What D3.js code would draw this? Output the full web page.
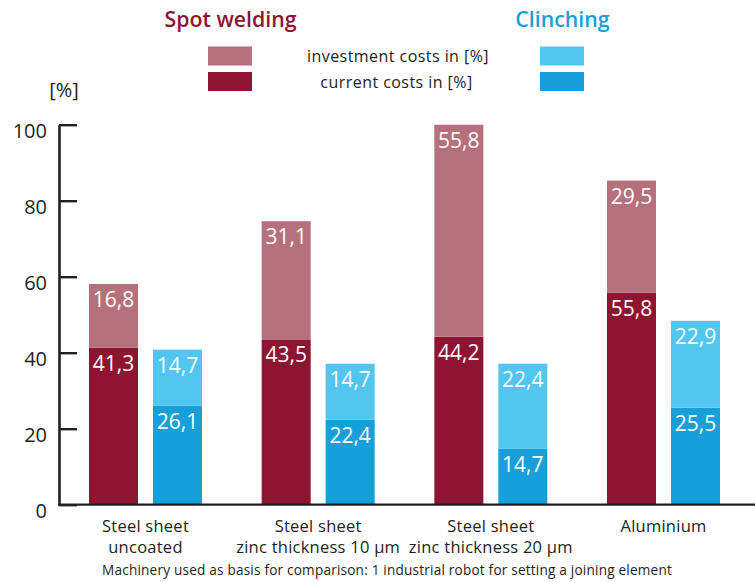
<!DOCTYPE html>
<html><head><meta charset="utf-8">
<script src="https://cdn.jsdelivr.net/npm/d3@7/dist/d3.min.js"></script>
<style>
body{margin:0;background:#fff;}
svg{display:block;font-family:"Open Sans",sans-serif;}
</style></head>
<body><svg id="c" width="755" height="582"></svg>
<script>
const categories = [["Steel sheet","uncoated"],["Steel sheet","zinc thickness 10 µm"],["Steel sheet","zinc thickness 20 µm"],["Aluminium"]];
const spotCurrent = [41.3, 43.5, 44.2, 55.8];
const spotInvest = [16.8, 31.1, 55.8, 29.5];
const clinchCurrent = [26.1, 22.4, 14.7, 25.5];
const clinchInvest = [14.7, 14.7, 22.4, 22.9];
const yTicks = [0, 20, 40, 60, 80, 100];
const methods = ["Spot welding", "Clinching"];
const legendLabels = ["investment costs in [%]", "current costs in [%]"];
const footnote = "Machinery used as basis for comparison: 1 industrial robot for setting a joining element";

const colors = {
  "Spot welding": {invest:"#b6707c", current:"#8d1532", title:"#8d1532"},
  "Clinching": {invest:"#52c6f0", current:"#179fd9", title:"#179fd9"}
};
const fmt = v => String(v).replace(".", ",");

const svg = d3.select("#c");
const idx = d3.range(categories.length);
const x = d3.scaleBand().domain(idx).range([89, 720]).paddingInner(0.3456).paddingOuter(0);
const xs = d3.scaleBand().domain(methods).range([0, x.bandwidth()]).paddingInner(0.234).paddingOuter(0);
const y = d3.scaleLinear().domain([0, 100]).range([504.7, 124.7]);

const rows = [];
idx.forEach(i => {
  rows.push({i, m:"Spot welding", current:spotCurrent[i], invest:spotInvest[i]});
  rows.push({i, m:"Clinching", current:clinchCurrent[i], invest:clinchInvest[i]});
});

const g = svg.append("g");
rows.forEach(r => {
  const bx = x(r.i) + xs(r.m), bw = xs.bandwidth();
  g.append("rect").attr("x", bx).attr("width", bw)
    .attr("y", y(r.current)).attr("height", y(0) - y(r.current))
    .attr("fill", colors[r.m].current);
  g.append("rect").attr("x", bx).attr("width", bw)
    .attr("y", y(r.current + r.invest)).attr("height", y(r.current) - y(r.current + r.invest))
    .attr("fill", colors[r.m].invest);
  g.append("text").attr("x", bx + bw/2).attr("y", y(r.current) + 23)
    .attr("text-anchor","middle").attr("fill","#fff").attr("font-size", 21).text(fmt(r.current));
  g.append("text").attr("x", bx + bw/2).attr("y", y(r.current + r.invest) + 23)
    .attr("text-anchor","middle").attr("fill","#fff").attr("font-size", 21).text(fmt(r.invest));
});

const yAxis = d3.axisLeft(y).tickValues(yTicks).tickSizeInner(-18).tickSizeOuter(0).tickPadding(12).tickFormat(d3.format("d"));
const ya = svg.append("g").attr("transform","translate(59,0)").call(yAxis);
ya.select(".domain").attr("stroke","#231f20").attr("stroke-width",2.6);
ya.selectAll(".tick line").attr("stroke","#231f20").attr("stroke-width",2.4);
ya.selectAll(".tick text").attr("font-size",20).attr("fill","#231f20").attr("dy","0.63em").attr("font-family","Open Sans");

svg.append("line").attr("x1",58).attr("x2",755).attr("y1",y(0)).attr("y2",y(0))
  .attr("stroke","#231f20").attr("stroke-width",2.2);

idx.forEach(i => {
  const t = svg.append("text").attr("text-anchor","middle").attr("font-size",16.5).attr("letter-spacing",0.25).attr("fill","#231f20");
  categories[i].forEach((line, k) => {
    t.append("tspan").attr("x", x(i) + x.bandwidth()/2).attr("y", 532 + k*21).text(line);
  });
});

svg.append("text").attr("x", 387).attr("y", 575).attr("text-anchor","middle")
  .attr("font-size",13.6).attr("letter-spacing",0.2).attr("fill","#231f20").text(footnote);

svg.append("text").attr("x", 64).attr("y", 97).attr("text-anchor","middle")
  .attr("font-size",20).attr("fill","#231f20").text("[%]");

const titleX = {"Spot welding":230.5, "Clinching":562.5};
const boxX = {"Spot welding":208, "Clinching":540};
methods.forEach(m => {
  svg.append("text").attr("x", titleX[m]).attr("y", 27).attr("text-anchor","middle")
    .attr("font-size",21.3).attr("font-weight",600).attr("fill",colors[m].title).text(m);
  svg.append("rect").attr("x", boxX[m]).attr("y", 46.5).attr("width",44).attr("height",19).attr("fill",colors[m].invest);
  svg.append("rect").attr("x", boxX[m]).attr("y", 72).attr("width",44).attr("height",19).attr("fill",colors[m].current);
});
svg.append("text").attr("x", 398).attr("y", 62).attr("text-anchor","middle").attr("font-size",16).attr("letter-spacing",0.45).attr("fill","#231f20").text(legendLabels[0]);
svg.append("text").attr("x", 396.5).attr("y", 88).attr("text-anchor","middle").attr("font-size",16).attr("letter-spacing",0.45).attr("fill","#231f20").text(legendLabels[1]);
</script></body></html>
